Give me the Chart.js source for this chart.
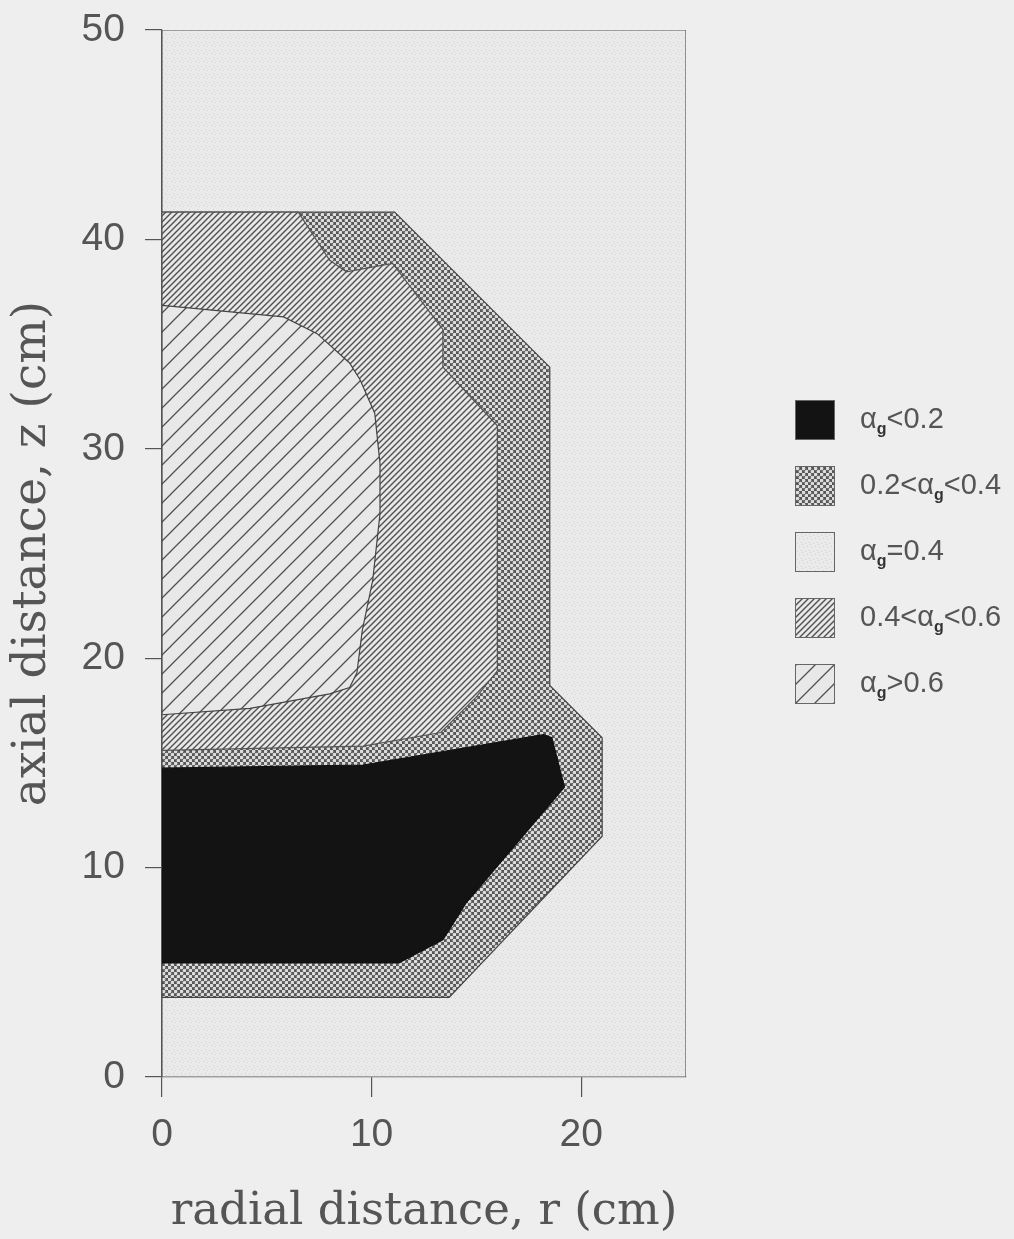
<!DOCTYPE html>
<html>
<head>
<meta charset="utf-8">
<title>Void fraction map</title>
<script src="https://cdn.jsdelivr.net/npm/chart.js@4.4.0/dist/chart.umd.min.js"></script>
<style>
  html, body { margin: 0; padding: 0; background: #eeeeee; }
  #wrap { position: relative; width: 1014px; height: 1239px; }
  #legend { position: absolute; left: 795px; top: 400px; font-family: "Liberation Sans", sans-serif; font-size: 29px; color: #555; }
  .item { display: flex; align-items: center; height: 40px; margin-bottom: 26px; }
  .item canvas { border: 1px solid #666; margin-right: 25px; }
  .item sub { font-size: 55%; font-weight: bold; color: #333; vertical-align: -0.35em; }
</style>
</head>
<body>
<div id="wrap">
  <canvas id="chart"></canvas>
  <div id="legend"></div>
</div>
<script>
// axis ticks
const xTickValues = [0, 10, 20];
const yTickValues = [0, 10, 20, 30, 40, 50];

// region outlines: r (cm) and z (cm)
// whole domain, alpha_g = 0.4
const domainR = [0, 25, 25, 0, 0];
const domainZ = [0, 0, 50, 50, 0];
// 0.2 < alpha_g < 0.4
const crossR = [0, 11.1, 18.5, 18.5, 21.0, 21.0, 13.7, 0, 0];
const crossZ = [41.3, 41.3, 33.9, 18.7, 16.2, 11.5, 3.8, 3.8, 41.3];
// 0.4 < alpha_g < 0.6
const hatchR = [0, 6.5, 8.0, 8.8, 11.0, 13.4, 13.4, 16.0, 16.0, 15.0, 13.3, 9.6, 0, 0];
const hatchZ = [41.3, 41.3, 39.0, 38.45, 38.85, 35.7, 33.9, 31.1, 19.4, 18.15, 16.45, 15.8, 15.6, 41.3];
// alpha_g > 0.6
const highR = [0, 5.8, 7.4, 8.95, 9.45, 10.15, 10.4, 10.4, 10.05, 9.55, 9.3, 8.95, 8.0, 4.2, 0, 0];
const highZ = [36.85, 36.3, 35.5, 34.1, 33.3, 31.7, 29.3, 26.9, 23.7, 21.3, 19.3, 18.6, 18.3, 17.6, 17.3, 36.85];
// alpha_g < 0.2
const blackR = [0, 9.6, 18.2, 18.6, 19.2, 14.5, 13.4, 11.3, 0, 0];
const blackZ = [14.75, 14.9, 16.35, 16.2, 13.85, 8.3, 6.55, 5.45, 5.45, 14.75];

function toPoints(rs, zs) {
    return rs.map((r, i) => ({ x: r, y: zs[i] }));
}

// fill textures
function makeTile(kind) {
    const c = document.createElement('canvas');
    const g = c.getContext('2d');
    if (kind === 'stipple') {
        c.width = 8; c.height = 8;
        g.fillStyle = '#eaeaea';
        g.fillRect(0, 0, 8, 8);
        g.fillStyle = '#d2d2d2';
        [[1, 2], [5, 1], [3, 5], [7, 6], [6, 3]].forEach(p => g.fillRect(p[0], p[1], 1, 1));
    } else if (kind === 'cross') {
        c.width = 6; c.height = 6;
        g.fillStyle = '#565656';
        g.fillRect(0, 0, 6, 6);
        g.fillStyle = '#dcdcdc';
        [[1.5, 1.5], [4.5, 4.5]].forEach(p => {
            g.beginPath();
            g.arc(p[0], p[1], 1.85, 0, Math.PI * 2);
            g.fill();
        });
    } else if (kind === 'dense' || kind === 'sparse') {
        const s = kind === 'dense' ? 6 : 19;
        c.width = s; c.height = s;
        g.fillStyle = '#e8e8e8';
        g.fillRect(0, 0, s, s);
        g.strokeStyle = '#505050';
        g.lineWidth = kind === 'dense' ? 1.4 : 1.3;
        g.beginPath();
        g.moveTo(-1, s + 1); g.lineTo(s + 1, -1);
        g.moveTo(-1, 1); g.lineTo(1, -1);
        g.moveTo(s - 1, s + 1); g.lineTo(s + 1, s - 1);
        g.stroke();
    }
    return c;
}

const chartCanvas = document.getElementById('chart');
const chartCtx = chartCanvas.getContext('2d');
const fills = {
    stipple: chartCtx.createPattern(makeTile('stipple'), 'repeat'),
    cross: chartCtx.createPattern(makeTile('cross'), 'repeat'),
    dense: chartCtx.createPattern(makeTile('dense'), 'repeat'),
    sparse: chartCtx.createPattern(makeTile('sparse'), 'repeat'),
    black: '#131313'
};

function region(label, rs, zs, fill, order, borderColor) {
    return {
        label: label,
        data: toPoints(rs, zs),
        fill: 'shape',
        backgroundColor: fill,
        borderColor: borderColor,
        borderWidth: 1.2,
        pointRadius: 0,
        tension: 0,
        order: order
    };
}

const tickFont = { family: '"Liberation Sans", sans-serif', size: 39 };

new Chart(chartCanvas, {
    type: 'line',
    data: {
        datasets: [
            region('αg<0.2', blackR, blackZ, fills.black, 1, '#111'),
            region('αg>0.6', highR, highZ, fills.sparse, 2, '#444'),
            region('0.4<αg<0.6', hatchR, hatchZ, fills.dense, 3, '#555'),
            region('0.2<αg<0.4', crossR, crossZ, fills.cross, 4, '#444'),
            region('αg=0.4', domainR, domainZ, fills.stipple, 5, '#555')
        ]
    },
    options: {
        animation: false,
        responsive: true,
        maintainAspectRatio: false,
        events: [],
        layout: { padding: { top: 30, right: 328, left: 0, bottom: 0 } },
        plugins: {
            legend: { display: false },
            tooltip: { enabled: false }
        },
        scales: {
            x: {
                type: 'linear',
                min: 0,
                max: 25,
                afterBuildTicks: s => { s.ticks = xTickValues.map(v => ({ value: v })); },
                afterFit: s => { s.height = 162; },
                grid: { display: true, drawOnChartArea: false, drawTicks: true, tickLength: 20, color: '#555', lineWidth: 1.2 },
                border: { display: true, color: '#555', width: 1.2 },
                ticks: { font: tickFont, color: '#555', padding: 15, maxRotation: 0 },
                title: { display: true, text: 'radial distance, r (cm)', font: { family: '"DejaVu Serif", serif', size: 45 }, color: '#555', padding: { top: 0, bottom: 0 } }
            },
            y: {
                type: 'linear',
                min: 0,
                max: 50,
                afterBuildTicks: s => { s.ticks = yTickValues.map(v => ({ value: v })); },
                afterFit: s => { s.width = 162; s.paddingTop = 0; s.paddingBottom = 0; },
                grid: { display: true, drawOnChartArea: false, drawTicks: true, tickLength: 17, color: '#555', lineWidth: 1.2 },
                border: { display: true, color: '#555', width: 1.2 },
                ticks: { font: tickFont, color: '#555', padding: 20 },
                title: { display: true, text: 'axial distance, z (cm)', font: { family: '"DejaVu Serif", serif', size: 47 }, color: '#555', padding: { top: 5, bottom: 0 } }
            }
        }
    }
});

// legend, drawn as html so the subscript stays real text
const legendItems = [
    { fill: 'black', html: 'α<sub>g</sub>&lt;0.2' },
    { fill: 'cross', html: '0.2&lt;α<sub>g</sub>&lt;0.4' },
    { fill: 'stipple', html: 'α<sub>g</sub>=0.4' },
    { fill: 'dense', html: '0.4&lt;α<sub>g</sub>&lt;0.6' },
    { fill: 'sparse', html: 'α<sub>g</sub>&gt;0.6' }
];
const legendEl = document.getElementById('legend');
legendItems.forEach(item => {
    const row = document.createElement('div');
    row.className = 'item';
    const sw = document.createElement('canvas');
    sw.width = 38; sw.height = 38;
    const sctx = sw.getContext('2d');
    sctx.fillStyle = item.fill === 'black' ? fills.black : sctx.createPattern(makeTile(item.fill), 'repeat');
    sctx.fillRect(0, 0, 38, 38);
    const label = document.createElement('span');
    label.innerHTML = item.html;
    row.appendChild(sw);
    row.appendChild(label);
    legendEl.appendChild(row);
});
</script>
</body>
</html>
